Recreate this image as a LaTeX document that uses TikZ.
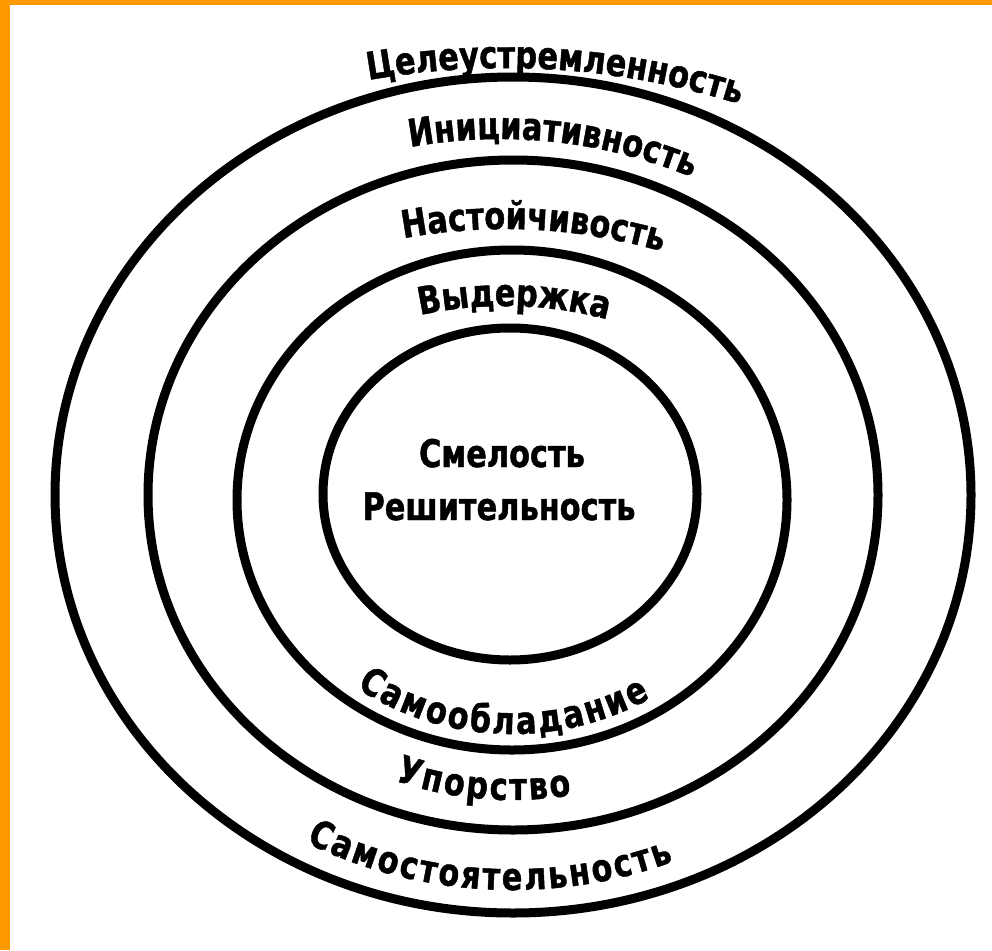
\documentclass[tikz,border=0pt]{standalone}
\usepackage{fontspec}
\newfontfamily\labfont{DejaVu Sans}[FakeStretch=0.8, FakeBold=1.2]
\usetikzlibrary{decorations.text,calc}
\definecolor{frameorange}{RGB}{255,153,0}
\newcommand\labsty{\labfont\bfseries\fontsize{38}{40}\selectfont}
\newcommand\labstysp{\labfont\bfseries\fontsize{38}{40}\selectfont\kern2.3pt}
\tikzset{
  ring/.style={draw=black, line width=9pt},
  arclabel/.style={decorate, decoration={text along path, text align=center, text={|\labsty|#1}}},
  arclabelsp/.style={decorate, decoration={text along path, text align=center, text={|\labstysp|#1}}},
  midlabel/.style={font=\labsty, anchor=base, inner sep=0pt},
}
\begin{document}
\begin{tikzpicture}[x=1pt,y=1pt]
\useasboundingbox (0,0) rectangle (992,-950);
\fill[white] (0,0) rectangle (992,-950);
\fill[frameorange] (0,0) rectangle (10,-950);
\fill[frameorange] (0,0) rectangle (992,-5);

% rings
\draw[ring] (513,-495) ellipse [x radius=458pt, y radius=418pt];
\draw[ring] (513,-495) ellipse [x radius=365pt, y radius=335pt];
\draw[ring] (512,-500) ellipse [x radius=275pt, y radius=250pt];
\draw[ring] (510,-494) ellipse [x radius=187pt, y radius=166pt];

% arc centres
\coordinate (c1) at (505,-848);
\coordinate (c2) at (500,-639);
\coordinate (c3) at (505,-789);
\coordinate (c4) at (505,-706);
\coordinate (e) at (512,-496);

% top labels
\path[arclabel=Целеустремленность] ($(c1)+(111.3:780pt)$) arc[start angle=111.3, end angle=61.3, radius=780pt];
\path[arclabel=Инициативность] ($(c2)+(113.9:500pt)$) arc[start angle=113.9, end angle=53.9, radius=500pt];
\path[arclabel=Настойчивость] ($(c3)+(115.1:560pt)$) arc[start angle=115.1, end angle=59.1, radius=560pt];
\path[arclabel=Выдержка] ($(c4)+(113.7:400pt)$) arc[start angle=113.7, end angle=63.7, radius=400pt];

% centre labels
\node[midlabel] (smel) at (502,-467) {Смелость};
\node[midlabel] (resh) at (499,-520) {Решительность};

% bottom labels
\path[arclabelsp=Самообладание] ($(e)+(212.4:262pt and 238pt)$) arc[start angle=212.4, end angle=322.4, x radius=262pt, y radius=238pt];
\path[arclabelsp=Упорство] ($(e)+(224.5:333pt and 304pt)$) arc[start angle=224.5, end angle=304.5, x radius=333pt, y radius=304pt];
\path[arclabelsp=Самостоятельность] ($(e)+(226.5:432pt and 394pt)$) arc[start angle=226.5, end angle=306.5, x radius=432pt, y radius=394pt];
\end{tikzpicture}
\end{document}
